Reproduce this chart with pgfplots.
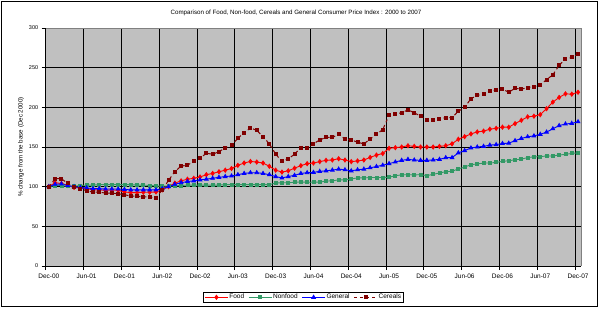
\documentclass[border=0pt]{standalone}
\usepackage{pgfplots}
\pgfplotsset{compat=1.18}
\usepackage{pgfplotstable}
\usepackage{fontspec}
\setmainfont{Liberation Sans}
\definecolor{bggray}{RGB}{192,192,192}
\definecolor{foodc}{RGB}{255,0,0}
\definecolor{nonfoodc}{RGB}{51,153,102}
\definecolor{generalc}{RGB}{0,0,255}
\definecolor{cerealc}{RGB}{128,0,0}
\pgfplotstableread{
x food nonfood general cereals
0.5 100 100 100 100
1.5 105 101.5 103 110
2.5 104 101.5 103.5 110
3.5 101.7 100.5 101.5 104
4.5 99 100.5 100 99
5.5 98.7 101.5 99 97
6.5 97.5 102 98.5 95
7.5 96 102 97.5 93
8.5 96 102.5 97.5 93
9.5 95.4 102.5 97 92
10.5 96 102.5 97 92
11.5 95.4 102.5 97 91
12.5 93.3 102.5 96.5 90
13.5 92.5 102.5 96 88
14.5 92.5 102 96 88
15.5 93 102 96 87
16.5 93 101.5 96 87
17.5 93.3 101 96 86
18.5 96 100.5 97.5 96
19.5 100 101 100 108
20.5 104.5 101 103 119
21.5 107.3 101.5 105 126
22.5 109.4 102 106.5 127
23.5 110.6 102 107.3 132
24.5 112.2 102 108.6 136
25.5 115.1 102 109.4 142
26.5 116.7 102 110.6 141
27.5 118.8 102 111.8 144
28.5 120.8 102.5 112.7 149
29.5 122.9 102.5 113.5 152
30.5 126.9 102.5 115.1 161
31.5 129.8 102.5 116.7 168
32.5 131.8 102.5 117.6 174
33.5 131 102.5 117.6 171
34.5 129.8 102.5 116.7 163
35.5 125.7 102.5 115.1 154
36.5 120.8 104.5 112.7 141
37.5 118.4 105 111 132
38.5 120 105 112.7 135
39.5 123.3 105.5 114.3 141
40.5 126.5 106 116.7 149
41.5 129 105.5 117.6 149
42.5 129.8 105.7 118 154
43.5 131.6 105.7 119.3 159
44.5 133.2 107 120 162
45.5 133.6 107.4 120.9 162
46.5 135.2 108.6 122.1 166
47.5 133.6 108.6 121.3 160
48.5 131.6 109.8 120 159
49.5 132.4 111 121.3 156
50.5 133.6 111 122.1 154
51.5 136.9 111.5 123.8 160
52.5 139.8 111.5 125.4 166
53.5 141.8 111.5 127 172
54.5 148.4 111.9 129.1 190
55.5 149.2 113.9 131.1 192
56.5 150 114.8 133.2 193
57.5 151.6 115.2 134.4 197
58.5 150.8 114.8 133.6 193
59.5 150 115.2 133.2 189
60.5 150 113.9 133.2 184
61.5 150 115.6 133.6 184
62.5 150.8 117.2 134.4 185
63.5 151.6 118.9 136.5 187
64.5 154 119.3 136.6 187
65.5 159.8 122.5 142.6 195
66.5 163 124.6 145.5 200
67.5 166.5 127.8 148.8 211
68.5 169 128.6 150 215
69.5 170 129.8 150.8 217
70.5 172.5 129.8 152.4 220
71.5 173.5 130.6 153 222
72.5 175 131.9 154.4 223
73.5 175 132.7 154.8 219
74.5 179.5 133.9 158 224
75.5 183.7 134.7 160.8 223
76.5 188 136.7 162.9 225
77.5 188.8 137.5 164 226
78.5 190.8 137.9 166 228
79.5 198.3 138.7 168.8 235
80.5 206.6 138.7 173 241
81.5 212.5 139.9 177 253
82.5 217 140.7 179 261
83.5 216.6 141.9 179.8 263
84.5 219 142.7 181.8 267
}\datatable
\begin{document}
\begin{tikzpicture}
\useasboundingbox (0pt,0pt) rectangle (604pt,311pt);
\draw[black, line width=0.8pt] (1pt,4.3pt) rectangle (597.7pt,309.3pt);
\node[font=\fontsize{6.2}{7}\selectfont] at (296pt,298pt) {Comparison of Food, Non-food, Cereals and General Consumer Price Index : 2000 to 2007};
\node[font=\fontsize{6.2}{7}\selectfont, rotate=90] at (21pt,164pt) {\% change from the base (Dec 2000)};
\begin{axis}[
  at={(45.7pt,45pt)}, anchor=south west,
  scale only axis, width=535.5pt, height=238pt,
  xmin=0, xmax=85, ymin=0, ymax=300,
  xtick={0,6,...,84},
  xticklabels={Dec-00,Jun-01,Dec-01,Jun-02,Dec-02,Jun-03,Dec-03,Jun-04,Dec-04,Jun-05,Dec-05,Jun-06,Dec-06,Jun-07,Dec-07},
  ytick={0,50,...,300},
  /pgf/number format/assume math mode=true,
  x tick label style={font=\fontsize{6.5}{7}\selectfont, xshift=3.15pt, yshift=0pt},
  y tick label style={font=\fontsize{5.5}{6}\selectfont},
  tick pos=left, tick align=outside, major tick length=4pt,
  tick style={black, line width=0.6pt},
  grid=major, major grid style={black, line width=0.8pt},
  axis background/.style={fill=bggray},
  axis line style={draw=none},
  clip=false,
  legend columns=4,
  legend style={at={(0.481,-0.1315)}, anchor=center, draw=black, line width=0.6pt,
    font=\fontsize{6.5}{7}\selectfont, inner xsep=1.5pt, inner ysep=1pt,
    /tikz/every even column/.append style={column sep=3pt},
    nodes={inner sep=1pt}},
  legend image code/.code={\draw[mark repeat=2,mark phase=2] plot coordinates {(0pt,0pt) (11.5pt,0pt) (23pt,0pt)};},
]
\addplot[foodc, line width=0.9pt, mark=diamond*, mark size=2pt, mark options={solid}] table[x=x,y=food] {\datatable};
\addlegendentry{Food}
\addplot[nonfoodc, line width=0.9pt, mark=square*, mark size=1.5pt, mark options={solid}] table[x=x,y=nonfood] {\datatable};
\addlegendentry{Nonfood}
\addplot[generalc, line width=0.9pt, mark=triangle*, mark size=2pt, mark options={solid}] table[x=x,y=general] {\datatable};
\addlegendentry{General}
\addplot[cerealc, line width=1pt, dash pattern=on 3pt off 3pt, mark=square*, mark size=1.5pt, mark options={solid}] table[x=x,y=cereals] {\datatable};
\addlegendentry{Cereals}
\draw[gray, line width=0.8pt] (rel axis cs:0,1) -- (rel axis cs:1,1) -- (rel axis cs:1,0);
\draw[black, line width=0.8pt] (rel axis cs:0,1) -- (rel axis cs:0,0) -- (rel axis cs:1,0);
\end{axis}
\end{tikzpicture}
\end{document}
